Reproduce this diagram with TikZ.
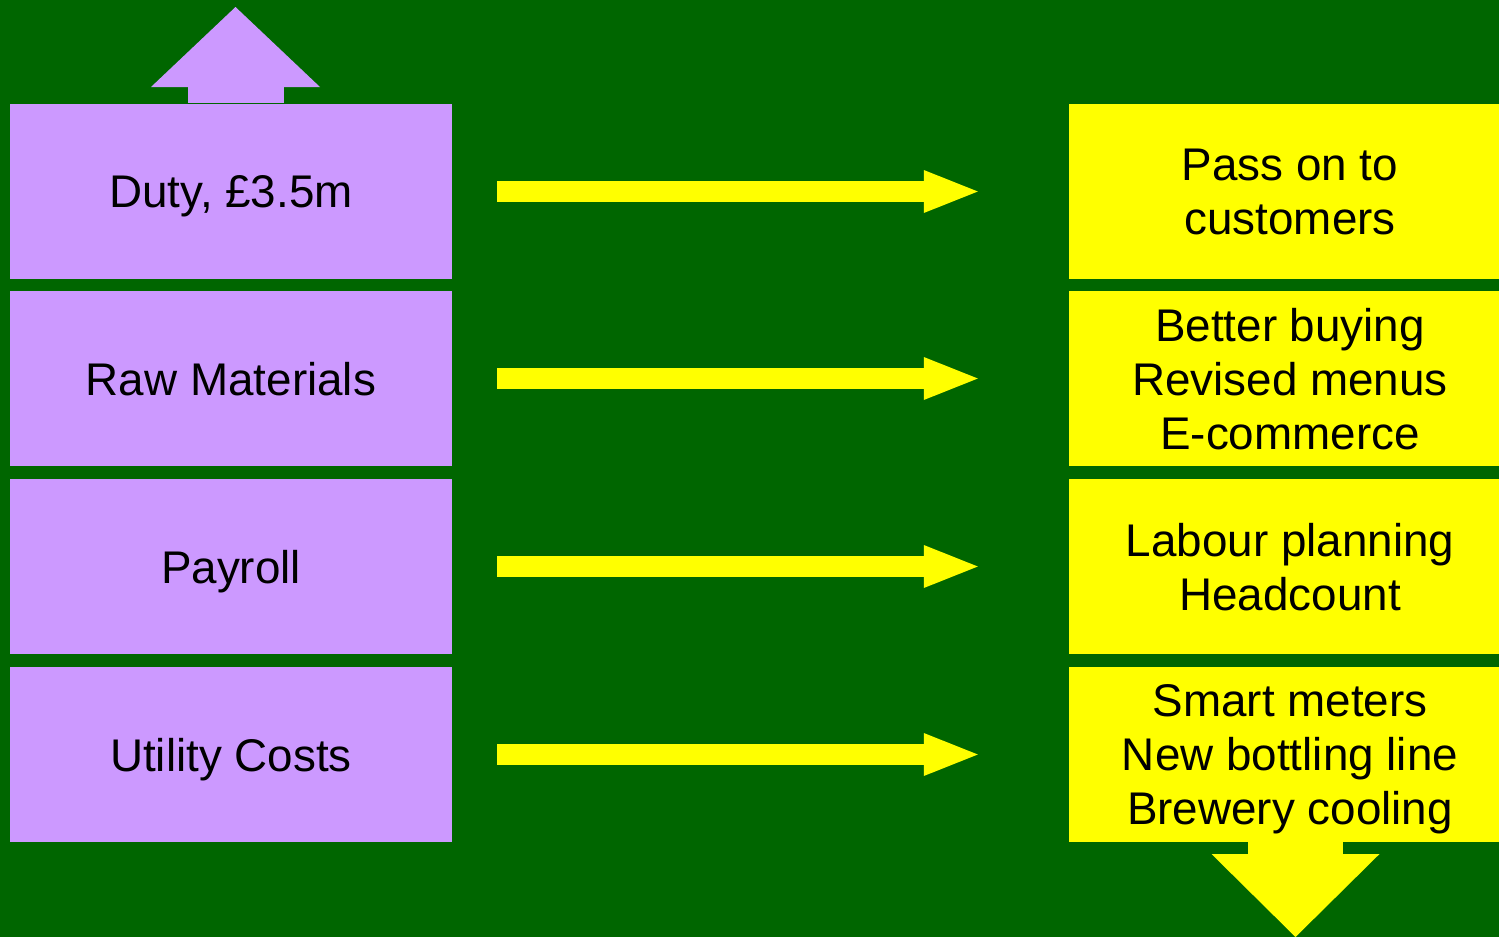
\documentclass[tikz,border=0pt]{standalone}
\usepackage{fontspec}
\setmainfont{Liberation Sans}
\usetikzlibrary{arrows.meta}
\definecolor{bggreen}{HTML}{006600}
\definecolor{lilac}{HTML}{CC99FF}
\definecolor{yel}{HTML}{FFFF00}
\tikzset{
  txt/.style={font=\fontsize{45.8}{54}\selectfont, text=black, align=center, inner sep=0pt, text depth=0pt},
  costbox/.style={txt, fill=lilac, minimum width=442pt, minimum height=175pt},
  actbox/.style={txt, fill=yel, minimum width=442pt, minimum height=175pt},
  flow/.style={yel, line width=21pt, -{Triangle[length=54pt,width=43pt,line width=0pt]}},
  uparrow/.style={lilac, line width=96pt, -{Triangle[length=80pt,width=169pt,line width=0pt]}},
  downarrow/.style={yel, line width=95pt, -{Triangle[length=83pt,width=168pt,line width=0pt]}}
}
\begin{document}
\begin{tikzpicture}[x=1pt,y=-1pt]
\fill[bggreen] (0,0) rectangle (1499,937);
\useasboundingbox (0,0) rectangle (1499,937);
\node[costbox] (L1) at (231,191.5) {Duty, £3.5m};
\node[costbox] (L2) at (231,378.5) {Raw Materials};
\node[costbox] (L3) at (231,566.5) {Payroll};
\node[costbox] (L4) at (231,754.5) {Utility Costs};
\node[actbox] (R1) at (1290,191.5) {Pass on to\\customers};
\node[actbox] (R2) at (1290,378.5) {Better buying\\Revised menus\\E-commerce};
\node[actbox] (R3) at (1290,566.5) {Labour planning\\Headcount};
\node[actbox] (R4) at (1290,754.5) {Smart meters\\New bottling line\\Brewery cooling};
\foreach \i in {1,...,4}{
  \draw[flow] ([xshift=45pt]L\i.east) -- ([xshift=-91pt]R\i.west);
}
\coordinate (uptip) at (235.5,7);
\draw[uparrow] ([yshift=1pt]L1.north -| uptip) -- (uptip);
\coordinate (downtip) at (1295.5,937);
\draw[downarrow] (R4.south -| downtip) -- (downtip);
\end{tikzpicture}
\end{document}
